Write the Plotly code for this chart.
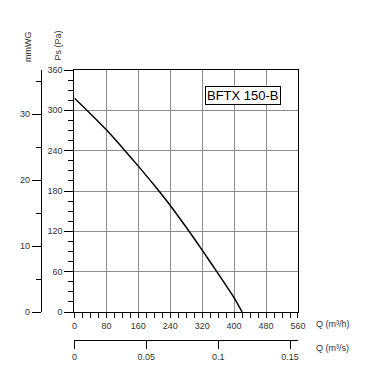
import plotly.graph_objects as go

# Data
flow_m3h = [0, 40, 80, 120, 160, 200, 240, 280, 320, 360, 400, 420]
pressure_pa = [318, 295, 271, 244.5, 217, 188.5, 158.5, 126, 92, 57, 21, 0]
model_label = "BFTX 150-B"

x_ticks = [0, 80, 160, 240, 320, 400, 480, 560]
y_ticks = [0, 60, 120, 180, 240, 300, 360]
mmwg_ticks = [0, 10, 20, 30]
m3s_ticks = [0, 0.05, 0.1, 0.15]
m3s_text = ["0", "0.05", "0.1", "0.15"]

PA_PER_MMWG = 9.81
X_MAX = 560
Y_MAX = 360

FONT = "Liberation Sans, Arial, sans-serif"
TICKC = "#333333"

fig = go.Figure()
fig.add_trace(go.Scatter(x=flow_m3h, y=pressure_pa, mode="lines",
                         line=dict(color="black", width=1.5, shape="spline", smoothing=0.8),
                         showlegend=False, hoverinfo="skip"))
# invisible helper traces so secondary axes are drawn
fig.add_trace(go.Scatter(x=[q / 3600 for q in flow_m3h], y=pressure_pa, xaxis="x2", yaxis="y",
                         mode="lines", line=dict(width=0), opacity=0,
                         showlegend=False, hoverinfo="skip"))
fig.add_trace(go.Scatter(x=flow_m3h, y=[p / PA_PER_MMWG for p in pressure_pa], xaxis="x", yaxis="y2",
                         mode="lines", line=dict(width=0), opacity=0,
                         showlegend=False, hoverinfo="skip"))

OFF = 8  # page body margin offset
W, H = 365 - OFF, 374 - OFF
ml, mr, mt, mb = 20 - OFF, 67, 70 - OFF, 34
pw = W - ml - mr
ph = H - mt - mb
x0_px = 72 - OFF
y0_px = 312 - OFF
mm_axis_px = 38 - OFF

tickfont = dict(family=FONT, size=9, color=TICKC)

fig.update_layout(
    width=W, height=H,
    margin=dict(l=ml, r=mr, t=mt, b=mb, pad=0),
    paper_bgcolor="white", plot_bgcolor="white",
    font=dict(family=FONT, size=9, color=TICKC),
    xaxis=dict(
        domain=[(x0_px - ml) / pw, 1], range=[0, X_MAX],
        tickvals=x_ticks, showgrid=True, gridcolor="#8c8c8c", gridwidth=1,
        showline=True, linecolor="black", linewidth=1, mirror=True,
        ticks="outside", ticklen=5, tickcolor="black", tickwidth=1,
        minor=dict(dtick=20, ticks="outside", ticklen=5, tickcolor="black", showgrid=False),
        zeroline=False, tickfont=tickfont, anchor="y",
    ),
    yaxis=dict(
        domain=[(mt + ph - y0_px) / ph, 1],
        range=[0, Y_MAX], tickvals=y_ticks,
        showgrid=True, gridcolor="#8c8c8c", gridwidth=1,
        showline=True, linecolor="black", linewidth=1, mirror=True,
        ticks="outside", ticklen=9, tickcolor="black", tickwidth=1,
        minor=dict(dtick=15, ticks="outside", ticklen=5, tickcolor="black", showgrid=False),
        zeroline=False, tickfont=tickfont, anchor="x",
    ),
    yaxis2=dict(
        overlaying="y", anchor="free", position=(mm_axis_px - ml) / pw, side="left",
        range=[0, Y_MAX / PA_PER_MMWG], tickvals=mmwg_ticks,
        showgrid=False, zeroline=False,
        showline=True, linecolor="black", linewidth=1,
        ticks="outside", ticklen=9, tickcolor="black", tickwidth=1,
        minor=dict(dtick=5, ticks="outside", ticklen=5, tickcolor="black", showgrid=False),
        tickfont=tickfont,
    ),
    xaxis2=dict(
        overlaying="x", anchor="free", position=0, side="bottom",
        range=[0, X_MAX / 3600], tickvals=m3s_ticks, ticktext=m3s_text,
        showgrid=False, zeroline=False,
        showline=True, linecolor="black", linewidth=1,
        ticks="outside", ticklen=8, tickcolor="black", tickwidth=1,
        tickfont=tickfont,
    ),
)

def px_x(px):
    return (px - OFF - ml) / pw

def px_y(py):
    return (mt + ph - (py - OFF)) / ph

annos = [
    dict(text="Q (m³/h)", x=px_x(314), y=px_y(324), xanchor="left", yanchor="middle"),
    dict(text="Q (m³/s)", x=px_x(314), y=px_y(348), xanchor="left", yanchor="middle"),
    dict(text="mmWG", x=px_x(25), y=px_y(46), xanchor="center", yanchor="middle", textangle=-90),
    dict(text="Ps (Pa)", x=px_x(55), y=px_y(46), xanchor="center", yanchor="middle", textangle=-90),
]
for a in annos:
    fig.add_annotation(xref="paper", yref="paper", showarrow=False,
                       font=dict(family=FONT, size=9, color=TICKC), **a)

fig.add_annotation(text=model_label, xref="paper", yref="paper",
                   x=px_x(242), y=px_y(95), xanchor="center", yanchor="middle",
                   showarrow=False, bordercolor="black", borderwidth=1, borderpad=1,
                   bgcolor="white", font=dict(family=FONT, size=13, color="black"))

fig.write_html("out.html")
